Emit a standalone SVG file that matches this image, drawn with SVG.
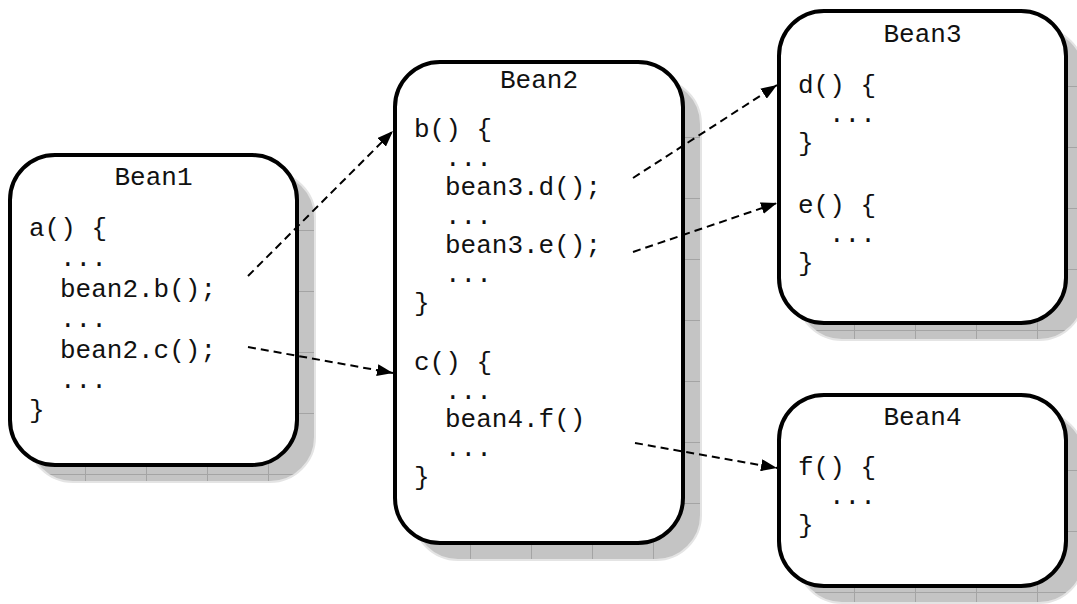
<svg xmlns="http://www.w3.org/2000/svg" width="1077" height="604" viewBox="0 0 1077 604">
  <style>
    .box { fill: #ffffff; stroke: #000000; stroke-width: 4; }
    .shadow { fill: url(#shadowGrid); stroke: #e4e4e4; stroke-width: 2; }
    .t { font-family: "Liberation Mono", "Courier New", monospace; font-size: 26px; fill: #111111; }
    .title { text-anchor: middle; }
    .conn { fill: none; stroke: #000000; stroke-width: 2; stroke-dasharray: 8 5; marker-end: url(#arrow); }
  </style>
  <defs>
    <pattern id="shadowGrid" patternUnits="userSpaceOnUse" x="14" y="14" width="61" height="61">
      <rect x="0" y="0" width="61" height="61" fill="#c4c4c4"/>
      <path d="M0.5,0 V61 M0,0.5 H61" stroke="#a4a4a4" stroke-width="1" fill="none"/>
    </pattern>
    <marker id="arrow" markerUnits="userSpaceOnUse" viewBox="0 0 16 12" markerWidth="16" markerHeight="12" refX="16" refY="6" orient="auto">
      <path d="M0,0 L16,6 L0,12 Z" fill="#000000"/>
    </marker>
  </defs>

  <g id="bean1" transform="translate(10,155)">
    <rect class="shadow" x="18" y="17" width="287" height="310" rx="45"/>
    <rect class="box" x="0" y="0" width="287" height="310" rx="45"/>
    <text class="t title" x="143.5" y="30">Bean1</text>
    <text class="t" x="19" y="81">a() {</text>
    <text class="t" x="50" y="111">...</text>
    <text class="t" x="50" y="142">bean2.b();</text>
    <text class="t" x="50" y="172">...</text>
    <text class="t" x="50" y="203">bean2.c();</text>
    <text class="t" x="50" y="233">...</text>
    <text class="t" x="19" y="263">}</text>
  </g>

  <g id="bean2" transform="translate(395,62)">
    <rect class="shadow" x="18" y="17" width="288" height="481" rx="45"/>
    <rect class="box" x="0" y="0" width="288" height="481" rx="45"/>
    <text class="t title" x="144" y="26">Bean2</text>
    <text class="t" x="19" y="75">b() {</text>
    <text class="t" x="50" y="104">...</text>
    <text class="t" x="50" y="133">bean3.d();</text>
    <text class="t" x="50" y="162">...</text>
    <text class="t" x="50" y="191">bean3.e();</text>
    <text class="t" x="50" y="220">...</text>
    <text class="t" x="19" y="249">}</text>
    <text class="t" x="19" y="308">c() {</text>
    <text class="t" x="50" y="337">...</text>
    <text class="t" x="50" y="365">bean4.f()</text>
    <text class="t" x="50" y="394">...</text>
    <text class="t" x="19" y="423">}</text>
  </g>

  <g id="bean3" transform="translate(779,11)">
    <rect class="shadow" x="18" y="17" width="287" height="312" rx="45"/>
    <rect class="box" x="0" y="0" width="287" height="312" rx="45"/>
    <text class="t title" x="143.5" y="31">Bean3</text>
    <text class="t" x="19" y="82">d() {</text>
    <text class="t" x="50" y="111">...</text>
    <text class="t" x="19" y="140">}</text>
    <text class="t" x="19" y="202">e() {</text>
    <text class="t" x="50" y="231">...</text>
    <text class="t" x="19" y="260">}</text>
  </g>

  <g id="bean4" transform="translate(779,395)">
    <rect class="shadow" x="18" y="17" width="287" height="191" rx="45"/>
    <rect class="box" x="0" y="0" width="287" height="191" rx="45"/>
    <text class="t title" x="143.5" y="30">Bean4</text>
    <text class="t" x="19" y="80">f() {</text>
    <text class="t" x="50" y="109">...</text>
    <text class="t" x="19" y="138">}</text>
  </g>

  <g id="connectors">
    <line class="conn" x1="248" y1="276" x2="393" y2="131"/>
    <line class="conn" x1="248" y1="347" x2="393" y2="373"/>
    <line class="conn" x1="633" y1="178" x2="777" y2="85"/>
    <line class="conn" x1="633" y1="252" x2="777" y2="203"/>
    <line class="conn" x1="635" y1="443" x2="777" y2="468"/>
  </g>
</svg>
